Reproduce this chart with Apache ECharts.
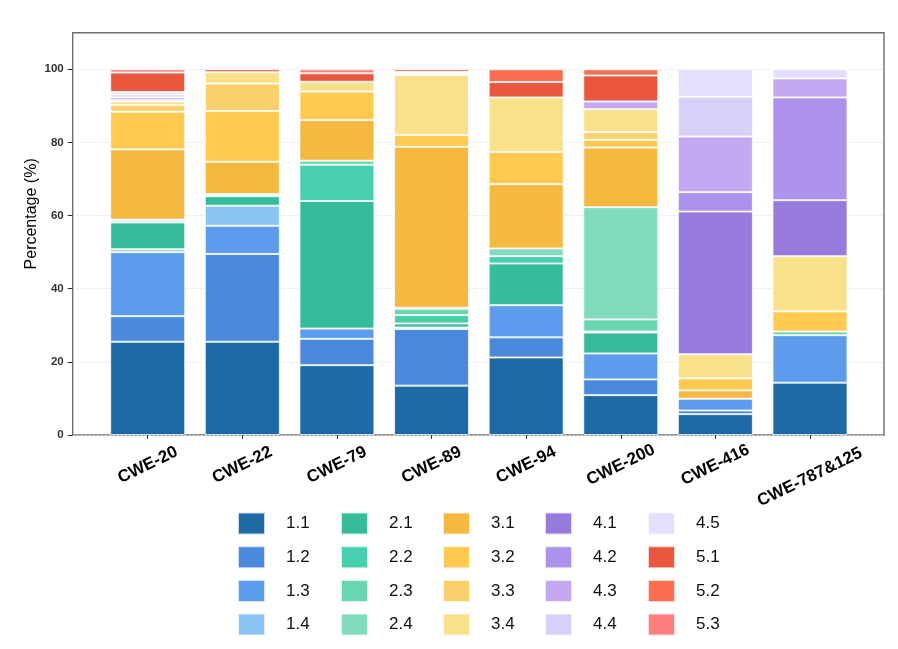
<!DOCTYPE html>
<html>
<head>
<meta charset="utf-8">
<script src="https://cdn.jsdelivr.net/npm/echarts@6/dist/echarts.min.js"></script>
<style>
html,body{margin:0;padding:0;background:#fff;}
#chart{width:898px;height:649px;}
</style>
</head>
<body>
<div id="chart"></div>
<script>
// Categories (x axis)
const categories = ['CWE-20', 'CWE-22', 'CWE-79', 'CWE-89', 'CWE-94', 'CWE-200', 'CWE-416', 'CWE-787&125'];

// Sub-category names (legend / series)
const seriesNames = ['1.1','1.2','1.3','1.4','2.1','2.2','2.3','2.4','3.1','3.2','3.3','3.4','4.1','4.2','4.3','4.4','4.5','5.1','5.2','5.3'];

// Percentage values per sub-category, in category order
const s1_1 = [25.5, 25.5, 19.1, 13.5, 21.2, 10.9, 5.7, 14.3];
const s1_2 = [7.0, 24.0, 7.2, 15.5, 5.5, 4.3, 1.0, 0];
const s1_3 = [17.5, 7.7, 2.8, 0.4, 8.8, 7.1, 3.2, 13.0];
const s1_4 = [0.8, 5.5, 0, 0, 0, 0, 0, 0];
const s2_1 = [7.3, 2.6, 34.9, 1.1, 11.4, 5.7, 0, 0];
const s2_2 = [0.5, 0.3, 9.9, 2.3, 2.0, 0.3, 0, 0];
const s2_3 = [0.3, 0.3, 1.1, 1.7, 0, 3.3, 0, 1.0];
const s2_4 = [0, 0, 0, 0.3, 2.1, 30.7, 0, 0];
const s3_1 = [19.2, 8.8, 11.1, 44.0, 17.6, 16.3, 2.3, 0];
const s3_2 = [10.3, 13.9, 7.8, 3.2, 8.8, 2.1, 3.3, 5.5];
const s3_3 = [1.8, 7.5, 0, 0, 0, 2.1, 0, 0];
const s3_4 = [1.0, 3.1, 2.7, 16.4, 14.9, 6.3, 6.6, 15.1];
const s4_1 = [0, 0, 0, 0, 0, 0, 39.0, 15.3];
const s4_2 = [0.3, 0, 0, 0, 0, 0, 5.3, 28.1];
const s4_3 = [0.8, 0, 0, 0, 0, 2.1, 15.2, 5.2];
const s4_4 = [0.8, 0, 0, 0.5, 0, 0, 10.9, 0];
const s4_5 = [0.7, 0, 0, 0.4, 0, 0, 7.5, 2.5];
const s5_1 = [5.3, 0.8, 2.3, 0.7, 4.2, 7.1, 0, 0];
const s5_2 = [0, 0, 0, 0, 3.5, 1.7, 0, 0];
const s5_3 = [0.9, 0, 1.1, 0, 0, 0, 0, 0];

const seriesValues = [s1_1, s1_2, s1_3, s1_4, s2_1, s2_2, s2_3, s2_4, s3_1, s3_2, s3_3, s3_4, s4_1, s4_2, s4_3, s4_4, s4_5, s5_1, s5_2, s5_3];

// Y axis ticks
const yTicks = [0, 20, 40, 60, 80, 100];

const colors = ['#1D6AA5','#4A89DC','#5D9CEC','#8CC4F5',
                '#37BC9B','#48CFAD','#66D7B0','#81DCBE',
                '#F5B942','#FFCA4F','#F9D16B','#FBE08A',
                '#967ADC','#AC92EC','#C4A9F2','#D8D0F6','#E5DEFC',
                '#E9573F','#FC6E51','#FF7F7F'];

const FONT = '"Liberation Sans", Arial, Helvetica, sans-serif';

const chart = echarts.init(document.getElementById('chart'), null, {renderer: 'canvas'});

const series = seriesNames.map((name, i) => ({
  name: name,
  type: 'bar',
  stack: 'total',
  xAxisIndex: 0,
  yAxisIndex: 0,
  barWidth: 75,
  itemStyle: {color: colors[i], borderColor: 'rgba(255,255,255,0.75)', borderWidth: 1},
  emphasis: {disabled: true},
  data: seriesValues[i].map(v => v === 0 ? '-' : v)
}));

const colX = [237, 340, 442, 544, 647];
const colItems = [
  ['1.1','1.2','1.3','1.4'],
  ['2.1','2.2','2.3','2.4'],
  ['3.1','3.2','3.3','3.4'],
  ['4.1','4.2','4.3','4.4'],
  ['4.5','5.1','5.2','5.3']
];
const legends = colItems.map((items, c) => ({
  orient: 'vertical',
  left: colX[c],
  top: 511.5,
  padding: 0,
  itemWidth: 27,
  itemHeight: 22,
  itemGap: 9.7,
  icon: 'rect',
  selectedMode: false,
  data: items,
  textStyle: {fontSize: 17, color: '#111', fontFamily: FONT, padding: [0, 0, 0, 16]}
}));

const labelBase = {fontSize: 17, fontWeight: 'bold', color: '#000', fontFamily: FONT};

const option = {
  animation: false,
  backgroundColor: '#fff',
  textStyle: {fontFamily: FONT},
  legend: legends,
  grid: [
    {left: 100.4, right: 40.7, top: 32.7, bottom: 214, show: false},
    {left: 72.7, right: 14, top: 32.7, bottom: 214, show: true, borderColor: '#6f6f6f', borderWidth: 1.4, backgroundColor: 'transparent', z: 0},
    {left: 72.7, top: 32.7, height: 362.3, width: 10, show: false}
  ],
  xAxis: [
    {
      gridIndex: 0, type: 'category', data: categories,
      axisLine: {show: false},
      axisTick: {show: true, alignWithLabel: true, length: 4, lineStyle: {color: '#333', width: 1}},
      axisLabel: Object.assign({
        interval: 0, rotate: 26, margin: 30, hideOverlap: false,
        align: 'center', verticalAlign: 'middle',
        formatter: v => v.length > 8 ? '{p|' + v + '}' : '{n|' + v + '}',
        rich: {
          n: Object.assign({}, labelBase),
          p: Object.assign({padding: [22, 11, 0, 0]}, labelBase)
        }
      }, labelBase),
      splitLine: {show: false}
    },
    {gridIndex: 1, type: 'value', min: 0, max: 1, show: false},
    {gridIndex: 2, type: 'value', min: 0, max: 1, show: false}
  ],
  yAxis: [
    {gridIndex: 0, type: 'value', min: 0, max: 110, show: false},
    {
      gridIndex: 1, type: 'value', min: 0, max: 110, interval: 20,
      axisLine: {show: false},
      axisTick: {show: true, length: 5, lineStyle: {color: '#333'}, customValues: yTicks},
      axisLabel: {fontSize: 11.5, fontWeight: 'bold', color: '#333', margin: 9, fontFamily: FONT, customValues: yTicks},
      splitLine: {show: true, lineStyle: {color: '#e4e4e4', type: [2, 2], width: 1}}
    },
    {
      gridIndex: 2, type: 'value', min: 0, max: 1,
      axisLine: {show: false}, axisTick: {show: false}, axisLabel: {show: false}, splitLine: {show: false},
      name: 'Percentage (%)', nameLocation: 'middle', nameGap: 33,
      nameTextStyle: {fontSize: 16, color: '#000', fontFamily: FONT}
    }
  ],
  series: series
};

chart.setOption(option);
</script>
</body>
</html>
